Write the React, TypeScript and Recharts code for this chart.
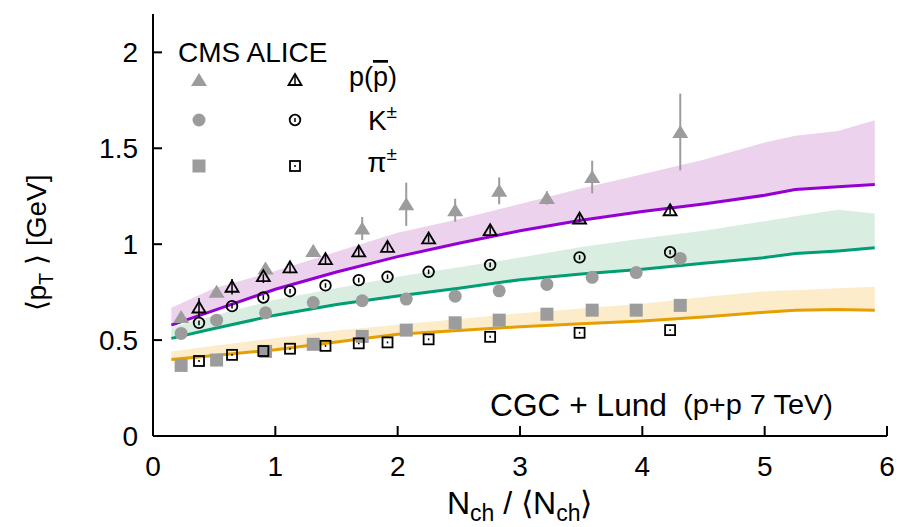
// mean transverse momentum vs. relative multiplicity, CMS / ALICE data with CGC + Lund bands
import React from "react";
import {
  ComposedChart,
  Area,
  Line,
  Scatter,
  ErrorBar,
  XAxis,
  YAxis,
} from "recharts";

// CMS measurements (filled grey markers)
const cmsX = [0.23, 0.52, 0.92, 1.31, 1.71, 2.07, 2.47, 2.83, 3.22, 3.59, 3.95, 4.31];
const cmsProton = [0.621, 0.752, 0.873, 0.965, 1.082, 1.208, 1.177, 1.278, 1.241, 1.35, null, 1.585];
const cmsProtonErr = [0.02, 0.02, 0.025, 0.03, 0.06, 0.113, 0.06, 0.07, 0.035, 0.085, null, 0.2];
const cmsKaon = [0.535, 0.604, 0.642, 0.696, 0.705, 0.714, 0.729, 0.757, 0.79, 0.827, 0.852, 0.926];
const cmsPion = [0.368, 0.396, 0.441, 0.478, 0.519, 0.552, 0.59, 0.604, 0.635, 0.656, 0.656, 0.681];

// ALICE measurements (open black markers)
const aliceX = [0.376, 0.646, 0.902, 1.12, 1.41, 1.682, 1.917, 2.253, 2.756, 3.487, 4.227];
const aliceProton = [0.67, 0.778, 0.833, 0.879, 0.922, 0.962, 0.986, 1.03, 1.073, 1.134, 1.177];
const aliceProtonErr = [0.05, 0.04, 0.035, 0.03, 0.03, 0.025, 0.025, 0.02, 0.02, 0.02, 0.02];
const aliceKaon = [0.59, 0.677, 0.722, 0.755, 0.785, 0.8125, 0.83, 0.856, 0.892, 0.931, 0.958];
const aliceKaonErr = [0.012, 0.012, 0.012, 0.012, 0.012, 0.012, 0.012, 0.012, 0.012, 0.012, 0.012];
const alicePion = [0.391, 0.423, 0.443, 0.455, 0.47, 0.483, 0.488, 0.504, 0.517, 0.538, 0.552];
const alicePionErr = [0.005, 0.005, 0.005, 0.005, 0.005, 0.005, 0.005, 0.005, 0.005, 0.005, 0.005];

// CGC + Lund model: central curve and upper edge of the band
const theoryX = [0.15, 0.5, 1.0, 1.5, 2.0, 2.5, 3.0, 3.5, 4.0, 4.5, 5.0, 5.25, 5.6, 5.9];
const protonCurve = [0.578, 0.655, 0.765, 0.855, 0.935, 1.005, 1.07, 1.125, 1.17, 1.21, 1.255, 1.285, 1.3, 1.311];
const protonUpper = [0.668, 0.77, 0.86, 0.96, 1.06, 1.13, 1.21, 1.29, 1.365, 1.44, 1.53, 1.565, 1.59, 1.646];
const kaonCurve = [0.509, 0.56, 0.63, 0.685, 0.73, 0.77, 0.815, 0.845, 0.869, 0.9, 0.93, 0.951, 0.965, 0.981];
const kaonUpper = [0.565, 0.63, 0.71, 0.77, 0.83, 0.88, 0.93, 0.985, 1.03, 1.07, 1.12, 1.145, 1.18, 1.16];
const pionCurve = [0.399, 0.42, 0.45, 0.49, 0.53, 0.55, 0.57, 0.585, 0.6, 0.62, 0.645, 0.656, 0.66, 0.656];
const pionUpper = [0.44, 0.47, 0.51, 0.55, 0.58, 0.61, 0.64, 0.665, 0.69, 0.725, 0.755, 0.76, 0.77, 0.778];

const xTicks = [0, 1, 2, 3, 4, 5, 6];
const yTicks = [0, 0.5, 1, 1.5, 2];

const FONT = "'Liberation Sans', Arial, Helvetica, sans-serif";
const GREY = "#9c9c9c";
const VIOLET = "#9400d3";
const GREEN = "#009e73";
const ORANGE = "#e69f00";

const theory = theoryX.map((x, i) => ({
  x,
  protonCurve: protonCurve[i],
  protonBand: [protonCurve[i], protonUpper[i]],
  kaonCurve: kaonCurve[i],
  kaonBand: [kaonCurve[i], kaonUpper[i]],
  pionCurve: pionCurve[i],
  pionBand: [pionCurve[i], pionUpper[i]],
}));

const points = (xs: number[], ys: (number | null)[], errs?: (number | null)[]) =>
  xs
    .map((x, i) => ({ x, y: ys[i], err: errs ? errs[i] : 0 }))
    .filter((p) => p.y !== null);

// marker glyphs
const FilledTriangle = ({ cx, cy }: any) => (
  <polygon points={`${cx},${cy - 7} ${cx + 8},${cy + 6} ${cx - 8},${cy + 6}`} fill={GREY} />
);
const FilledCircle = ({ cx, cy }: any) => <circle cx={cx} cy={cy} r={6.5} fill={GREY} />;
const FilledSquare = ({ cx, cy }: any) => (
  <rect x={cx - 6.5} y={cy - 6.5} width={13} height={13} fill={GREY} />
);
const OpenTriangle = ({ cx, cy }: any) => (
  <polygon
    points={`${cx},${cy - 6} ${cx + 6.5},${cy + 5} ${cx - 6.5},${cy + 5}`}
    fill="none"
    stroke="#000"
    strokeWidth={1.8}
  />
);
const OpenCircle = ({ cx, cy }: any) => (
  <circle cx={cx} cy={cy} r={5.3} fill="none" stroke="#000" strokeWidth={1.8} />
);
const OpenSquare = ({ cx, cy }: any) => (
  <rect x={cx - 5} y={cy - 5} width={10} height={10} fill="none" stroke="#000" strokeWidth={1.8} />
);

// key sample: open marker with its little error tick
const KeySample = ({ cx, cy, half, children }: any) => (
  <g>
    {children}
    <line x1={cx} x2={cx} y1={cy - half} y2={cy + half} stroke="#000" strokeWidth={1.5} />
  </g>
);

export default function App() {
  return (
    <div style={{ position: "absolute", left: 0, top: 0, width: 903, height: 527, background: "#fff" }}>
      <ComposedChart
        width={903}
        height={527}
        data={theory}
        margin={{ top: 14, right: 16, left: 0, bottom: 0 }}
      >
        <XAxis
          dataKey="x"
          type="number"
          domain={[0, 6]}
          ticks={xTicks}
          height={91}
          tickSize={-10}
          tickMargin={30}
          stroke="#000"
          strokeWidth={2}
          tick={{ fill: "#000", fontSize: 28, fontFamily: FONT }}
        />
        <XAxis
          xAxisId="top"
          orientation="top"
          type="number"
          domain={[0, 6]}
          ticks={xTicks}
          height={0}
          tickSize={-10}
          tick={false}
          stroke="#000"
          strokeWidth={2}
        />
        <YAxis
          type="number"
          domain={[0, 2.2]}
          ticks={yTicks}
          width={153}
          tickSize={-9}
          tickMargin={24}
          stroke="#000"
          strokeWidth={2}
          tick={{ fill: "#000", fontSize: 28, fontFamily: FONT }}
        />
        <YAxis
          yAxisId="right"
          orientation="right"
          type="number"
          domain={[0, 2.2]}
          ticks={yTicks}
          width={0}
          tickSize={-9}
          tick={false}
          stroke="#000"
          strokeWidth={2}
        />

        <Area dataKey="protonBand" type="linear" stroke="none" fill="#ecd2ec" fillOpacity={1} isAnimationActive={false} activeDot={false} />
        <Area dataKey="kaonBand" type="linear" stroke="none" fill="#d9eee1" fillOpacity={1} isAnimationActive={false} activeDot={false} />
        <Area dataKey="pionBand" type="linear" stroke="none" fill="#fdecca" fillOpacity={1} isAnimationActive={false} activeDot={false} />

        <Line dataKey="protonCurve" type="linear" stroke={VIOLET} strokeWidth={3} dot={false} activeDot={false} isAnimationActive={false} />
        <Line dataKey="kaonCurve" type="linear" stroke={GREEN} strokeWidth={3} dot={false} activeDot={false} isAnimationActive={false} />
        <Line dataKey="pionCurve" type="linear" stroke={ORANGE} strokeWidth={3} dot={false} activeDot={false} isAnimationActive={false} />

        <Scatter data={points(cmsX, cmsProton, cmsProtonErr)} dataKey="y" shape={FilledTriangle} isAnimationActive={false}>
          <ErrorBar dataKey="err" direction="y" width={0} stroke={GREY} strokeWidth={2} isAnimationActive={false} />
        </Scatter>
        <Scatter data={points(cmsX, cmsKaon)} dataKey="y" shape={FilledCircle} isAnimationActive={false} />
        <Scatter data={points(cmsX, cmsPion)} dataKey="y" shape={FilledSquare} isAnimationActive={false} />

        <Scatter data={points(aliceX, aliceProton, aliceProtonErr)} dataKey="y" shape={OpenTriangle} isAnimationActive={false}>
          <ErrorBar dataKey="err" direction="y" width={0} stroke="#000" strokeWidth={1.5} isAnimationActive={false} />
        </Scatter>
        <Scatter data={points(aliceX, aliceKaon, aliceKaonErr)} dataKey="y" shape={OpenCircle} isAnimationActive={false}>
          <ErrorBar dataKey="err" direction="y" width={0} stroke="#000" strokeWidth={1.5} isAnimationActive={false} />
        </Scatter>
        <Scatter data={points(aliceX, alicePion, alicePionErr)} dataKey="y" shape={OpenSquare} isAnimationActive={false}>
          <ErrorBar dataKey="err" direction="y" width={0} stroke="#000" strokeWidth={1.5} isAnimationActive={false} />
        </Scatter>
      </ComposedChart>

      {/* labels, key and annotation */}
      <svg
        width={903}
        height={527}
        style={{ position: "absolute", left: 0, top: 0, pointerEvents: "none" }}
        fontFamily={FONT}
      >
        <text x={178} y={62} fontSize={28} fill="#000">CMS ALICE</text>

        <FilledTriangle cx={199} cy={80} />
        <KeySample cx={295} cy={80} half={4}>
          <OpenTriangle cx={295} cy={80} />
        </KeySample>
        <text x={397} y={86} fontSize={27} textAnchor="end" fill="#000">
          p(<tspan textDecoration="overline">p</tspan>)
        </text>

        <FilledCircle cx={199} cy={120} />
        <KeySample cx={295} cy={120} half={2}>
          <OpenCircle cx={295} cy={120} />
        </KeySample>
        <text x={397} y={130} fontSize={28} textAnchor="end" fill="#000">
          K<tspan dy={-12} fontSize={19}>±</tspan>
        </text>

        <FilledSquare cx={199} cy={166} />
        <KeySample cx={295} cy={166} half={1}>
          <OpenSquare cx={295} cy={166} />
        </KeySample>
        <text x={397} y={172} fontSize={28} textAnchor="end" fill="#000">
          π<tspan dy={-12} fontSize={19}>±</tspan>
        </text>

        <text x={490} y={416} fontSize={31} fill="#000" textLength={177} lengthAdjust="spacingAndGlyphs">
          CGC + Lund
        </text>
        <text x={683} y={414} fontSize={27} fill="#000" textLength={150} lengthAdjust="spacingAndGlyphs">
          (p+p 7 TeV)
        </text>

        <text x={447} y={514} fontSize={32} fill="#000">
          N<tspan dy={7} fontSize={23}>ch</tspan>
          <tspan dy={-7}> / ⟨N</tspan>
          <tspan dy={7} fontSize={23}>ch</tspan>
          <tspan dy={-7}>⟩</tspan>
        </text>

        <text transform="translate(46,243) rotate(-90)" fontSize={28} textAnchor="middle" fill="#000">
          ⟨p<tspan dy={7} fontSize={20}>T</tspan>
          <tspan dy={-7}> ⟩ [GeV]</tspan>
        </text>
      </svg>
    </div>
  );
}
